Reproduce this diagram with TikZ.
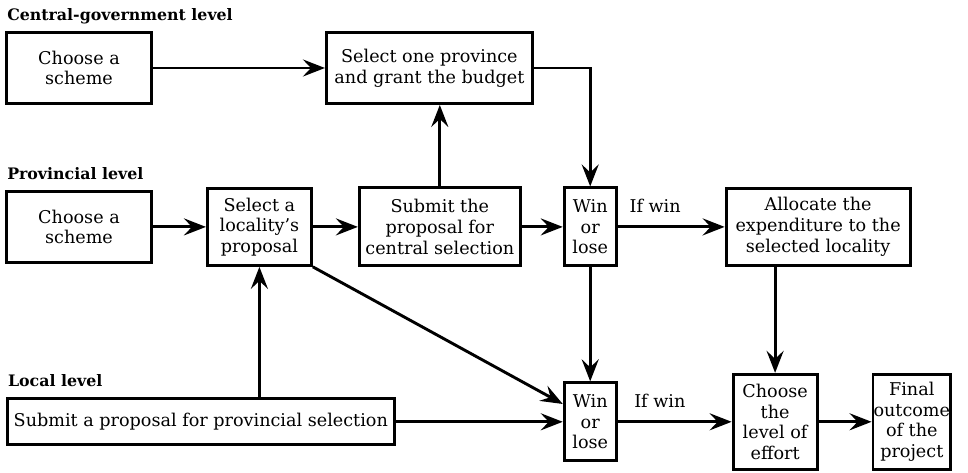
\documentclass[tikz,border=0pt]{standalone}
\usepackage{fontspec}
\setmainfont{DejaVu Serif}
\usetikzlibrary{arrows.meta,positioning}

\begin{document}
\begin{tikzpicture}[x=1pt,y=-1pt,
  node distance=40pt and 40pt,
  lbox/.style={draw=black,line width=2.9pt,align=center,inner sep=0.5pt,
               font=\fontsize{17.6}{20.7}\selectfont},
  sbox/.style={lbox,minimum width=145pt,minimum height=71pt},
  wlbox/.style={lbox,minimum width=52pt,minimum height=78pt},
  tbox/.style={lbox,minimum height=95pt},
  lvl/.style={anchor=base west,inner sep=0pt,font=\fontsize{15.8}{18}\selectfont\bfseries},
  wlab/.style={above=13pt,inner sep=0pt,font=\fontsize{17.6}{20}\selectfont},
  flow/.style={-{Stealth[length=22pt,width=17pt,inset=8pt]},line width=2.9pt,line join=miter}]

\useasboundingbox (0,0) rectangle (968,473);

% central-government level
\node[sbox] (cgscheme) at (79,68) {Choose a\\scheme};
\node[lbox,minimum width=206pt,minimum height=71pt,right=172pt of cgscheme] (select) {Select one province\\and grant the budget};

% provincial level
\node[sbox,below=85pt of cgscheme] (pscheme) {Choose a\\scheme};
\node[lbox,minimum width=104pt,minimum height=77pt,right=53pt of pscheme] (pick) {Select a\\locality's\\proposal};
\node[lbox,minimum width=161pt,minimum height=78pt,right=45pt of pick] (submit) {Submit the\\proposal for\\central selection};
\node[wlbox,right=41pt of submit] (win1) {Win\\or\\lose};
\node[lbox,minimum width=184pt,minimum height=77pt,right=107pt of win1] (alloc) {Allocate the\\expenditure to the\\selected locality};

% local level
\node[wlbox,below=114pt of win1] (win2) {Win\\or\\lose};
\node[lbox,minimum width=387pt,minimum height=46pt,left=167pt of win2] (local) {Submit a proposal for provincial selection};
\node[tbox,minimum width=84pt,right=114pt of win2] (effort) {Choose\\the\\level of\\effort};
\node[tbox,minimum width=73pt,right=53pt of effort] (final) {Final\\outcome\\of the\\project};

% level titles
\node[lvl] (cglab) at ([xshift=2pt,yshift=10.5pt]cgscheme.north west) {Central-government level};
\node[lvl] (plab) at ([xshift=2pt,yshift=10.5pt]pscheme.north west) {Provincial level};
\node[lvl] (llab) at ([xshift=2pt,yshift=11pt]local.north west) {Local level};

\draw[flow] (cgscheme) -- (select);
\draw[flow] (select.east) -| (win1.north);
\draw[flow] (submit.north) -- (submit.north |- select.south);
\draw[flow] (pscheme) -- (pick);
\draw[flow] (pick) -- (submit);
\draw[flow] (submit) -- (win1);
\draw[flow] (win1) -- node[wlab,pos=0.35]{If win} (alloc);
\draw[flow] (win1) -- (win2);
\draw[flow] (alloc.south -| effort.north) -- (effort.north);
\draw[flow] (local.north -| pick.south) -- (pick.south);
\draw[flow] (pick.south east) -- (win2.147);
\draw[flow] (local.east) -- (local.east -| win2.west);
\draw[flow] (win2) -- node[wlab,pos=0.37]{If win} (effort);
\draw[flow] (effort) -- (final);

\end{tikzpicture}
\end{document}
